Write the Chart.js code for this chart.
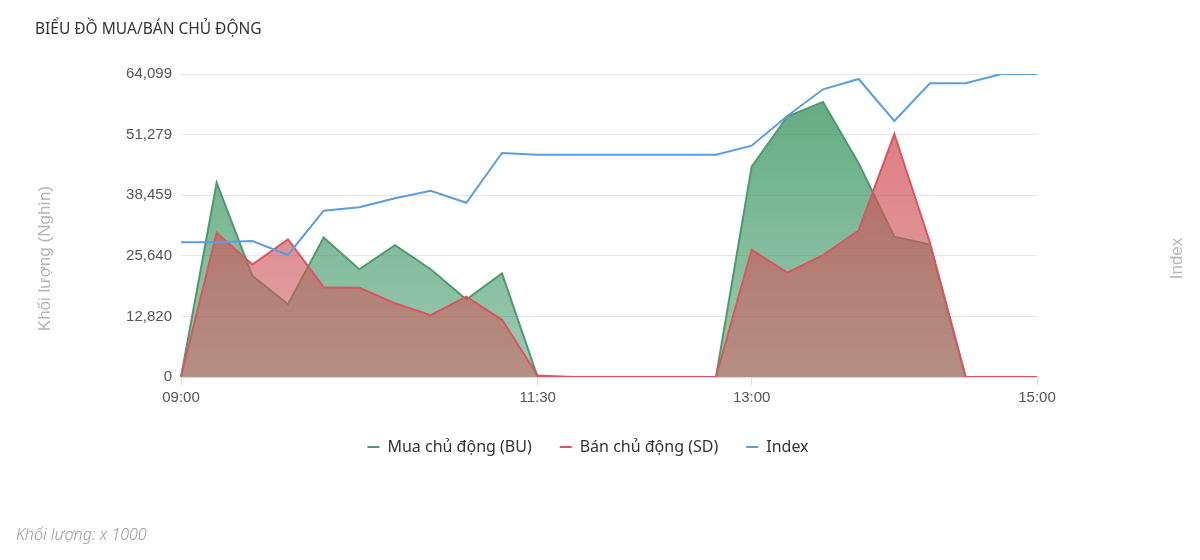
<!DOCTYPE html>
<html>
<head>
<meta charset="utf-8">
<script src="https://cdn.jsdelivr.net/npm/chart.js@4.4.1/dist/chart.umd.min.js"></script>
<style>
  html, body { margin: 0; padding: 0; background: #fff; }
  #wrap { position: relative; width: 1200px; height: 560px; }
  #title { position: absolute; left: 35px; top: 17px; font: 15.5px "Noto Sans", sans-serif; color: #333; }
  #note { position: absolute; left: 16px; top: 523px; font: italic 300 16px "Noto Sans", sans-serif; color: #999; }
  canvas { position: absolute; left: 0; top: 0; }
</style>
</head>
<body>
<div id="wrap">
  <canvas id="flowChart" width="1200" height="560"></canvas>
  <div id="title">BIỂU ĐỒ MUA/BÁN CHỦ ĐỘNG</div>
  <div id="note">Khối lượng: x 1000</div>
</div>
<script>
// time slots, every 15 minutes
var times = ['09:00','09:15','09:30','09:45','10:00','10:15','10:30','10:45','11:00','11:15','11:30','11:45',
             '12:00','12:15','12:30','12:45','13:00','13:15','13:30','13:45','14:00','14:15','14:30','14:45','15:00'];
var shownTimes = ['09:00','11:30','13:00','15:00'];

// volumes (thousand)
var buyActive  = [0, 41100, 21400, 15400, 29500, 22800, 27900, 22800, 16400, 21900, 0, 0,
                  0, 0, 0, 0, 44500, 55100, 58200, 45200, 29700, 28000, 0, 0, 0];
var sellActive = [0, 30500, 23800, 29100, 19000, 18900, 15600, 13100, 17000, 12100, 300, 0,
                  0, 0, 0, 0, 26900, 22100, 25800, 31000, 51400, 28400, 0, 0, 0];
var indexLine  = [1226.67, 1226.67, 1226.93, 1224.16, 1232.93, 1233.60, 1235.39, 1236.89, 1234.51, 1244.36, 1244.02, 1244.02,
                  1244.02, 1244.02, 1244.02, 1244.02, 1245.80, 1251.68, 1256.97, 1259.01, 1250.69, 1258.16, 1258.16, 1260.00, 1260.00];

var volumeTicks = [0, 12820, 25640, 38459, 51279, 64099];

function areaFill(top, bottom) {
  return function (context) {
    var area = context.chart.chartArea;
    if (!area) return top;
    var g = context.chart.ctx.createLinearGradient(0, area.top, 0, area.bottom);
    g.addColorStop(0, top);
    g.addColorStop(1, bottom);
    return g;
  };
}

// axis titles sit a bit lower than the plot middle in the original
const axisTitles = {
  id: 'axisTitles',
  afterDraw(chart) {
    var ctx = chart.ctx, a = chart.chartArea;
    var cy = (a.top + a.bottom) / 2 + 33;
    ctx.save();
    ctx.font = '17px "Liberation Sans", Arial, sans-serif';
    ctx.fillStyle = '#b5b5b5';
    ctx.textAlign = 'center';
    ctx.textBaseline = 'middle';
    ctx.translate(a.left - 136, cy);
    ctx.rotate(-Math.PI / 2);
    ctx.fillText('Khối lượng (Nghìn)', 0, 0);
    ctx.restore();
    ctx.save();
    ctx.font = '17px "Liberation Sans", Arial, sans-serif';
    ctx.fillStyle = '#b5b5b5';
    ctx.textAlign = 'center';
    ctx.textBaseline = 'middle';
    ctx.translate(a.right + 140, cy);
    ctx.rotate(-Math.PI / 2);
    ctx.fillText('Index', 0, 0);
    ctx.restore();
  }
};

var el = document.getElementById('flowChart');
const flow = new Chart(el, {
  type: 'line',
  data: {
    labels: times,
    datasets: [{
      label: 'Mua chủ động (BU)',
      data: buyActive,
      yAxisID: 'y',
      borderColor: '#4f9a6c',
      borderWidth: 2,
      backgroundColor: areaFill('rgba(60,150,100,0.82)', 'rgba(60,150,100,0.5)'),
      fill: 'origin',
      order: 3
    }, {
      label: 'Bán chủ động (SD)',
      data: sellActive,
      yAxisID: 'y',
      borderColor: '#da5560',
      borderWidth: 2,
      backgroundColor: areaFill('rgba(215,75,85,0.78)', 'rgba(200,95,95,0.55)'),
      fill: 'origin',
      order: 2
    }, {
      label: 'Index',
      data: indexLine,
      yAxisID: 'y1',
      borderColor: '#5b9de0',
      borderWidth: 2,
      backgroundColor: '#5b9de0',
      fill: false,
      order: 1
    }]
  },
  options: {
    responsive: false,
    animation: false,
    elements: {
      line: { borderWidth: 2, tension: 0 },
      point: { radius: 0, hoverRadius: 0 }
    },
    layout: { padding: { top: 74, left: 0, right: 24, bottom: 95 } },
    plugins: {
      tooltip: { enabled: false },
      legend: {
        position: 'bottom',
        labels: {
          usePointStyle: true,
          pointStyle: 'line',
          pointStyleWidth: 12,
          padding: 28,
          color: '#333',
          font: { family: '"Noto Sans", sans-serif', size: 16 },
          sort: function (a, b) { return a.datasetIndex - b.datasetIndex; }
        }
      }
    },
    scales: {
      x: {
        ticks: {
          autoSkip: false,
          maxRotation: 0,
          padding: 4,
          color: '#555',
          font: { family: '"Liberation Sans", Arial, sans-serif', size: 15 },
          callback: function (v, i) { return shownTimes.indexOf(times[i]) >= 0 ? times[i] : ''; }
        },
        grid: {
          drawOnChartArea: false,
          tickLength: 8,
          color: function (c) { return c.tick && shownTimes.indexOf(times[c.index]) >= 0 ? '#dcdcdc' : 'rgba(0,0,0,0)'; }
        },
        border: { color: '#dcdcdc' },
        afterFit: function (s) { s.height = 34; }
      },
      y: {
        min: 0,
        max: 64099,
        afterBuildTicks: function (s) { s.ticks = volumeTicks.map(function (v) { return { value: v }; }); },
        ticks: {
          padding: 9,
          color: '#555',
          font: { family: '"Liberation Sans", Arial, sans-serif', size: 15 },
          callback: function (v) { return v.toLocaleString('en-US'); }
        },
        grid: { color: '#e6e6e6', drawTicks: false },
        border: { display: false },
        afterFit: function (s) { s.width = 181; }
      },
      y1: {
        position: 'right',
        min: 1200,
        max: 1260,
        ticks: { display: false },
        grid: { display: false },
        border: { display: false },
        afterFit: function (s) { s.width = 139; }
      }
    }
  },
  plugins: [axisTitles]
});
</script>
</body>
</html>
